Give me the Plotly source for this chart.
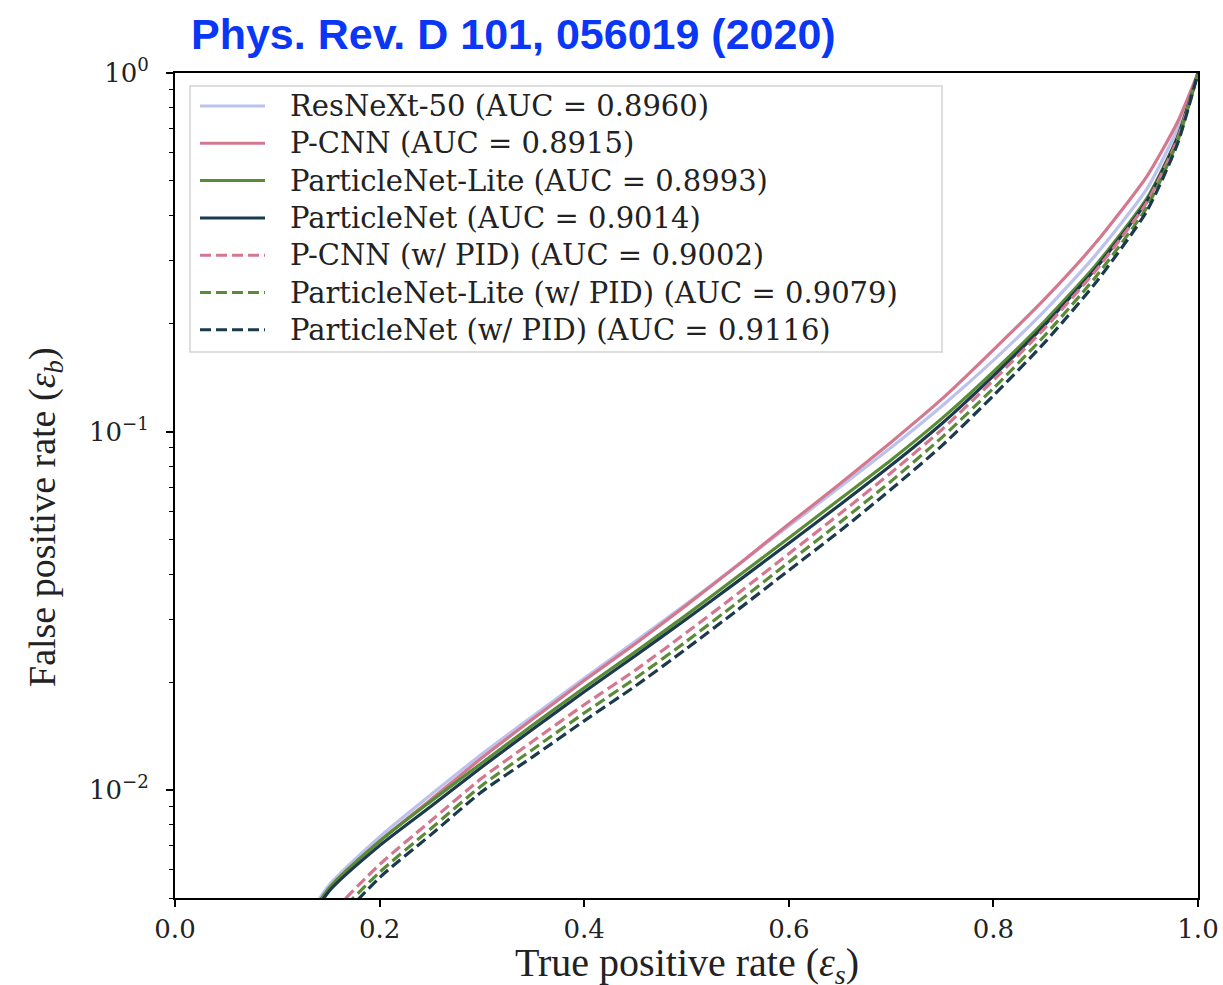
import numpy as np
import plotly.graph_objects as go

# True positive rate grid
tpr = [0.10, 0.15, 0.20, 0.25, 0.30, 0.35, 0.40, 0.45, 0.50, 0.55, 0.60,
       0.65, 0.70, 0.75, 0.80, 0.85, 0.90, 0.95, 0.98, 1.00]

# False positive rate for each model
fpr_resnext = [0.0032, 0.0054, 0.0074, 0.0097, 0.0126, 0.0161, 0.0205, 0.0260, 0.0331, 0.0424, 0.0545,
               0.0700, 0.0902, 0.118, 0.158, 0.217, 0.311, 0.475, 0.700, 1.0]
fpr_pcnn = [0.0031, 0.0053, 0.0072, 0.0094, 0.0123, 0.0158, 0.0202, 0.0256, 0.0328, 0.0424, 0.0552,
            0.0715, 0.0934, 0.1235, 0.169, 0.234, 0.336, 0.515, 0.730, 1.0]
fpr_pnlite = [0.0031, 0.0053, 0.0072, 0.0093, 0.0119, 0.0152, 0.0193, 0.0243, 0.0308, 0.0394, 0.0505,
              0.0648, 0.0833, 0.109, 0.147, 0.203, 0.291, 0.447, 0.665, 1.0]
fpr_pn = [0.0030, 0.0052, 0.0070, 0.0090, 0.0116, 0.0148, 0.0188, 0.0237, 0.0300, 0.0382, 0.0488,
          0.0625, 0.0805, 0.1055, 0.143, 0.198, 0.285, 0.440, 0.660, 1.0]
fpr_pcnn_pid = [0.0025, 0.0044, 0.0062, 0.0082, 0.0108, 0.0137, 0.0173, 0.0216, 0.0275, 0.0353, 0.0456,
                0.0590, 0.0768, 0.1015, 0.139, 0.194, 0.281, 0.436, 0.655, 1.0]
fpr_pnlite_pid = [0.0024, 0.0042, 0.0059, 0.0078, 0.0103, 0.0130, 0.0164, 0.0205, 0.0260, 0.0334, 0.0432,
                  0.0558, 0.0727, 0.0965, 0.132, 0.185, 0.270, 0.422, 0.645, 1.0]
fpr_pn_pid = [0.0023, 0.0040, 0.0057, 0.0075, 0.0099, 0.0124, 0.0156, 0.0195, 0.0248, 0.0318, 0.0410,
              0.0528, 0.0690, 0.0915, 0.126, 0.177, 0.260, 0.412, 0.635, 1.0]

names = ["ResNeXt-50 (AUC = 0.8960)", "P-CNN (AUC = 0.8915)",
         "ParticleNet-Lite (AUC = 0.8993)", "ParticleNet (AUC = 0.9014)",
         "P-CNN (w/ PID) (AUC = 0.9002)", "ParticleNet-Lite (w/ PID) (AUC = 0.9079)",
         "ParticleNet (w/ PID) (AUC = 0.9116)"]
series = [fpr_resnext, fpr_pcnn, fpr_pnlite, fpr_pn, fpr_pcnn_pid, fpr_pnlite_pid, fpr_pn_pid]
colors = ["#bcc2ec", "#d4788f", "#5a8c38", "#1b3a4c", "#d4788f", "#5a8c38", "#1b3a4c"]
dashes = ["solid", "solid", "solid", "solid", "11px,5px", "11px,5px", "11px,5px"]

x_title = "True positive rate (<i>ε<sub>s</sub></i>)"
y_title = "False positive rate (<i>ε<sub>b</sub></i>)"

# plot-area geometry in pixels
W, H = 1223, 985
L, R, T, B = 175, 1198, 73, 898


def px_x(p):
    return (p - L) / (R - L)


def px_y(p):
    return (B - p) / (B - T)


fig = go.Figure()
for name, ys, c, d in zip(names, series, colors, dashes):
    fig.add_trace(go.Scatter(x=tpr, y=ys, mode="lines", name=name, showlegend=False,
                             line=dict(color=c, width=3.2, dash=d, shape="spline", smoothing=0.6)))

# legend box (matplotlib style)
shapes = [dict(type="rect", xref="paper", yref="paper",
               x0=px_x(190), x1=px_x(942), y0=px_y(352), y1=px_y(86),
               line=dict(color="#d4d4d4", width=1.5), fillcolor="rgba(255,255,255,0.9)", layer="above")]
annotations = []
row0, step = 106, 37.3
for i, (name, c, d) in enumerate(zip(names, colors, dashes)):
    yy = px_y(row0 + i * step)
    shapes.append(dict(type="line", xref="paper", yref="paper", x0=px_x(200), x1=px_x(265),
                       y0=yy, y1=yy, line=dict(color=c, width=3, dash=d), layer="above"))
    annotations.append(dict(xref="paper", yref="paper", x=px_x(288), y=yy, text=name,
                            showarrow=False, xanchor="left", yanchor="middle",
                            font=dict(family="DejaVu Serif", size=29, color="#222222")))

# axis titles
annotations.append(dict(xref="paper", yref="paper", x=0.5, y=px_y(965), text=x_title,
                        showarrow=False, xanchor="center", yanchor="middle",
                        font=dict(family="Liberation Serif", size=40, color="#222222")))
annotations.append(dict(xref="paper", yref="paper", x=px_x(45), y=px_y(517), text=y_title,
                        showarrow=False, xanchor="center", yanchor="middle", textangle=-90,
                        font=dict(family="Liberation Serif", size=38, color="#222222")))

minor_vals = [v * 10.0 ** e for e in (-3, -2, -1) for v in range(2, 10)]
minor_vals = [v for v in minor_vals if v >= 0.005]

fig.update_layout(
    width=W, height=H,
    margin=dict(l=L, r=W - R, t=T, b=H - B, autoexpand=False),
    paper_bgcolor="white", plot_bgcolor="white",
    title=dict(text="<b>Phys. Rev. D 101, 056019 (2020)</b>", x=191 / W, xanchor="left",
               y=1 - 34 / H, yanchor="middle",
               font=dict(family="Liberation Sans", size=43, color="#0a36f5")),
    showlegend=False,
    shapes=shapes,
    annotations=annotations,
    xaxis=dict(range=[0, 1], tickvals=[0, 0.2, 0.4, 0.6, 0.8, 1.0],
               ticktext=["0.0", "0.2", "0.4", "0.6", "0.8", "1.0"], automargin=False,
               showgrid=False, zeroline=False, showline=True, linecolor="black", linewidth=2,
               mirror=True, ticks="outside", ticklen=7, tickwidth=1.5, tickcolor="black",
               tickfont=dict(family="DejaVu Serif", size=26, color="#222222")),
    yaxis=dict(type="log", range=[np.log10(0.005), 0], tickvals=[0.01, 0.1, 1],
               ticktext=["10<sup>−2</sup>", "10<sup>−1</sup>", "10<sup>0</sup>"], automargin=False,
               showgrid=False, zeroline=False, showline=True, linecolor="black", linewidth=2,
               mirror=True, ticks="outside", ticklen=7, tickwidth=1.5, tickcolor="black",
               minor=dict(tickvals=minor_vals, ticks="outside", ticklen=4, tickwidth=1.2,
                          tickcolor="black", showgrid=False),
               ticklabelstandoff=12,
               tickfont=dict(family="DejaVu Serif", size=26, color="#222222")),
)

fig.write_html("out.html", post_script="document.body.style.margin='0px';",
               config={"displayModeBar": False})
